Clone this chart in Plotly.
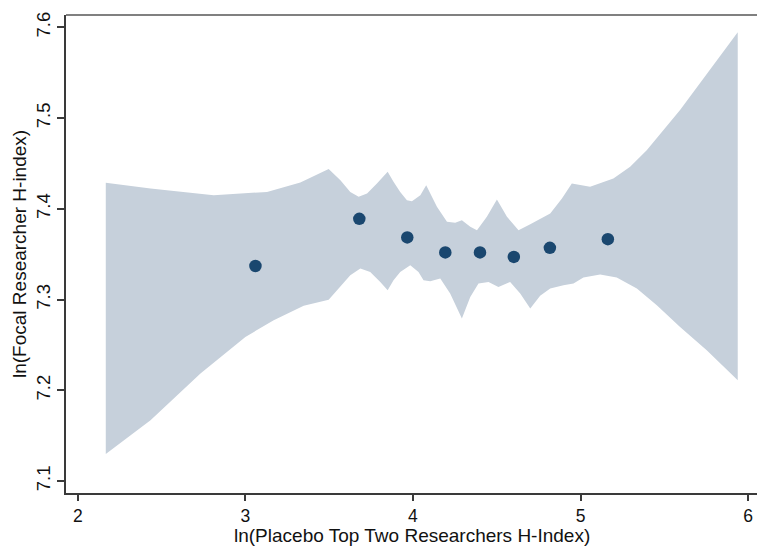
import plotly.graph_objects as go

# Binned scatter points
bin_x = [3.06, 3.68, 3.966, 4.193, 4.40, 4.602, 4.817, 5.163]
bin_y = [7.337, 7.389, 7.3685, 7.352, 7.352, 7.347, 7.357, 7.3666]

# Upper confidence bound
upper_x = [2.167, 2.434, 2.811, 3.129, 3.328, 3.497, 3.567, 3.626, 3.676, 3.726,
           3.785, 3.849, 3.884, 3.924, 3.964, 3.994, 4.044, 4.079, 4.143, 4.203,
           4.252, 4.292, 4.342, 4.382, 4.441, 4.501, 4.561, 4.630, 4.700, 4.819,
           4.889, 4.948, 5.057, 5.196, 5.296, 5.395, 5.594, 5.792, 5.938]
upper_y = [7.4287, 7.4225, 7.4151, 7.4187, 7.4291, 7.4438, 7.4316, 7.4187, 7.4132, 7.4170,
           7.4280, 7.4408, 7.4298, 7.4187, 7.4096, 7.4085, 7.4151, 7.4261, 7.4022, 7.3857,
           7.3846, 7.3875, 7.3802, 7.3765, 7.3912, 7.4104, 7.3912, 7.3765, 7.3831, 7.3949,
           7.4115, 7.4280, 7.4243, 7.4335, 7.4463, 7.4647, 7.5088, 7.5584, 7.5945]

# Lower confidence bound
lower_x = [2.167, 2.434, 2.732, 3.000, 3.169, 3.348, 3.497, 3.567, 3.626, 3.686,
           3.745, 3.805, 3.849, 3.884, 3.924, 3.984, 4.033, 4.063, 4.103, 4.163,
           4.222, 4.292, 4.342, 4.391, 4.451, 4.510, 4.580, 4.640, 4.700, 4.759,
           4.819, 4.898, 4.958, 5.017, 5.117, 5.216, 5.336, 5.455, 5.594, 5.753, 5.938]
lower_y = [7.1299, 7.1670, 7.2185, 7.2589, 7.2773, 7.2933, 7.2999, 7.3140, 7.3269, 7.3343,
           7.3305, 7.3195, 7.3104, 7.3214, 7.3305, 7.3379, 7.3305, 7.3214, 7.3203, 7.3233,
           7.3067, 7.2792, 7.3030, 7.3178, 7.3195, 7.3140, 7.3195, 7.3067, 7.2902, 7.3043,
           7.3122, 7.3159, 7.3178, 7.3244, 7.3277, 7.3244, 7.3122, 7.2938, 7.2699, 7.2442, 7.2111]

x_ticks = [2, 3, 4, 5, 6]
y_ticks = [7.1, 7.2, 7.3, 7.4, 7.5, 7.6]
x_title = "ln(Placebo Top Two Researchers H-Index)"
y_title = "ln(Focal Researcher H-index)"

FONT = "Liberation Sans, Arial, sans-serif"
AXIS_COLOR = "#3a3a3a"

fig = go.Figure()

band_x = upper_x + lower_x[::-1]
band_y = upper_y + lower_y[::-1]
fig.add_trace(go.Scatter(
    x=band_x, y=band_y, mode="lines", fill="toself",
    fillcolor="#c6d0db", line=dict(width=0, color="#c6d0db"),
    hoverinfo="skip", showlegend=False))

fig.add_trace(go.Scatter(
    x=bin_x, y=bin_y, mode="markers",
    marker=dict(size=12.5, color="#1a476f", line=dict(width=0)),
    showlegend=False))

fig.update_layout(
    width=757, height=546,
    margin=dict(l=66, r=0, t=15, b=53),
    paper_bgcolor="white", plot_bgcolor="white",
    font=dict(family=FONT, size=18, color="#111111"),
    xaxis=dict(range=[1.9296, 6.053], tickvals=x_ticks, ticks="outside",
               ticklen=6, tickwidth=1.5, tickcolor=AXIS_COLOR,
               showline=True, linecolor=AXIS_COLOR, linewidth=2,
               showgrid=False, zeroline=False,
               tickfont=dict(family=FONT, size=17.5, color="#111111")),
    yaxis=dict(range=[7.0869, 7.6136], tickvals=y_ticks, ticks="outside",
               ticklen=7, tickwidth=1.5, tickcolor=AXIS_COLOR, tickangle=-90,
               showline=True, linecolor=AXIS_COLOR, linewidth=2,
               showgrid=False, zeroline=False,
               tickfont=dict(family=FONT, size=18.5, color="#111111")),
    shapes=[dict(type="line", xref="paper", yref="paper", x0=0, x1=1, y0=1, y1=1,
                 line=dict(color="#808080", width=2))],
    annotations=[
        dict(text=x_title, xref="paper", yref="paper", x=0.5, y=0,
             xanchor="center", yanchor="middle", yshift=-42, showarrow=False,
             font=dict(family=FONT, size=19, color="#111111")),
        dict(text=y_title, xref="paper", yref="paper", x=0, y=0.5,
             xanchor="center", yanchor="middle", xshift=-47, textangle=-90,
             showarrow=False, font=dict(family=FONT, size=19, color="#111111")),
    ],
)

fig.write_html("out.html")
